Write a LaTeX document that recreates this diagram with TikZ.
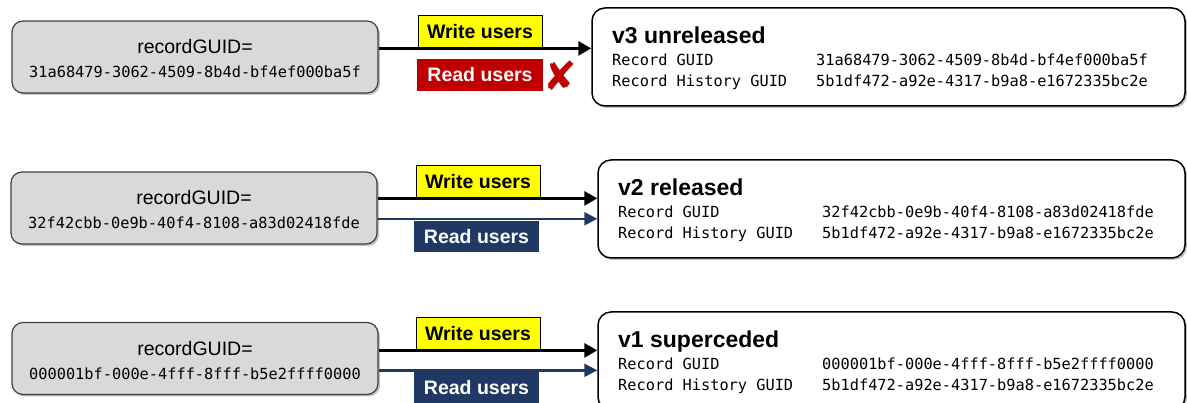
\documentclass[tikz,border=0pt]{standalone}
\usepackage{fontspec}
\setmainfont{Liberation Sans}
\newfontfamily\monof{DejaVu Sans Mono}
\newfontfamily\symf{DejaVu Sans}
\usetikzlibrary{shadows,arrows.meta}
\definecolor{boxgrey}{HTML}{D9D9D9}
\definecolor{navyblue}{HTML}{1F3864}
\definecolor{darkred}{HTML}{C00000}
\definecolor{labelyellow}{HTML}{FFFF00}
\begin{document}
\begin{tikzpicture}[x=1pt,y=-1pt,
  softshadow/.style={drop shadow={shadow xshift=2pt,shadow yshift=-2pt,fill=black!40,opacity=0.6}},
  leftbox/.style={draw=black!75,line width=1.2pt,fill=boxgrey,rounded corners=11pt,
    minimum width=366pt,minimum height=72pt,inner sep=0pt,softshadow},
  rightbox/.style={draw=black,line width=1.5pt,fill=white,rounded corners=13pt,
    minimum height=98pt,inner sep=0pt,softshadow},
  sanstext/.style={font=\fontsize{19.5}{22}\selectfont,inner sep=0pt},
  guidtext/.style={font=\monof\fontsize{15.3}{17}\selectfont,inner sep=0pt},
  titletext/.style={font=\fontsize{23}{26}\selectfont\bfseries,inner sep=0pt,anchor=base west},
  rowtext/.style={font=\monof\fontsize{15.3}{17}\selectfont,inner sep=0pt,anchor=base west},
  wlabel/.style={draw=black,line width=0.8pt,fill=labelyellow,font=\fontsize{19.5}{22}\selectfont\bfseries,
    minimum width=124pt,minimum height=33pt,inner sep=0pt},
  rlabel/.style={fill=navyblue,text=white,font=\fontsize{19.5}{22}\selectfont\bfseries,
    minimum width=125pt,minimum height=31pt,inner sep=0pt},
  redlabel/.style={fill=darkred,text=white,font=\fontsize{19.5}{22}\selectfont\bfseries,
    minimum width=126pt,minimum height=32pt,inner sep=0pt},
  warrow/.style={line width=3pt,draw=black,-{Triangle[length=13pt,width=14pt]}},
  barrow/.style={line width=2.5pt,draw=navyblue,-{Triangle[length=13pt,width=13pt]}}
]
\useasboundingbox (0,0) rectangle (1187,403);
\clip (0,0) rectangle (1187,403);

% ---------- Row 1 ----------
\node[leftbox] (L1) at (195,57) {};
\node[sanstext] (L1a) at (195,47) {recordGUID=};
\node[guidtext] (L1b) at (195,72) {31a68479-3062-4509-8b4d-bf4ef000ba5f};
\node[rightbox,minimum width=593pt] (R1) at (888.5,57) {};
\node[titletext] (T1) at (612,44) {v3 unreleased};
\node[rowtext] (T1a) at (612,66) {Record GUID};
\node[rowtext] (T1b) at (816,66) {31a68479-3062-4509-8b4d-bf4ef000ba5f};
\node[rowtext] (T1c) at (612,87) {Record History GUID};
\node[rowtext] (T1d) at (816,87) {5b1df472-a92e-4317-b9a8-e1672335bc2e};
\node[wlabel] (W1) at (480,31.5) {Write users};
\node[redlabel] (RD1) at (480,75) {Read users};
\node[font=\symf\bfseries\fontsize{40}{42}\selectfont,text=darkred,inner sep=0pt] (X1) at (560,76) {✘};
\draw[warrow] (L1.east |- W1.south) -- (R1.west |- W1.south);

% ---------- Row 2 ----------
\node[leftbox] (L2) at (194,208) {};
\node[sanstext] (L2a) at (194,198) {recordGUID=};
\node[guidtext] (L2b) at (194,223) {32f42cbb-0e9b-40f4-8108-a83d02418fde};
\node[rightbox,minimum width=587pt] (R2) at (891.5,209) {};
\node[titletext] (T2) at (618,196) {v2 released};
\node[rowtext] (T2a) at (618,218) {Record GUID};
\node[rowtext] (T2b) at (822,218) {32f42cbb-0e9b-40f4-8108-a83d02418fde};
\node[rowtext] (T2c) at (618,239) {Record History GUID};
\node[rowtext] (T2d) at (822,239) {5b1df472-a92e-4317-b9a8-e1672335bc2e};
\node[wlabel] (W2) at (478,181.5) {Write users};
\node[rlabel] (RD2) at (476.5,236.5) {Read users};
\draw[warrow] (L2.east |- W2.south) -- (R2.west |- W2.south);
\draw[barrow] (L2.east |- RD2.north) ++(0,-2) coordinate (B2s) (B2s) -- (R2.west |- B2s);

% ---------- Row 3 ----------
\node[leftbox] (L3) at (195,358.5) {};
\node[sanstext] (L3a) at (195,348.5) {recordGUID=};
\node[guidtext] (L3b) at (195,373.5) {000001bf-000e-4fff-8fff-b5e2ffff0000};
\node[rightbox,minimum width=587pt] (R3) at (891.5,361) {};
\node[titletext] (T3) at (618,348) {v1 superceded};
\node[rowtext] (T3a) at (618,370) {Record GUID};
\node[rowtext] (T3b) at (822,370) {000001bf-000e-4fff-8fff-b5e2ffff0000};
\node[rowtext] (T3c) at (618,391) {Record History GUID};
\node[rowtext] (T3d) at (822,391) {5b1df472-a92e-4317-b9a8-e1672335bc2e};
\node[wlabel] (W3) at (478,333.5) {Write users};
\node[rlabel] (RD3) at (476.5,388) {Read users};
\draw[warrow] (L3.east |- W3.south) -- (R3.west |- W3.south);
\draw[barrow] (L3.east |- RD3.north) ++(0,-2) coordinate (B3s) (B3s) -- (R3.west |- B3s);
\end{tikzpicture}
\end{document}
